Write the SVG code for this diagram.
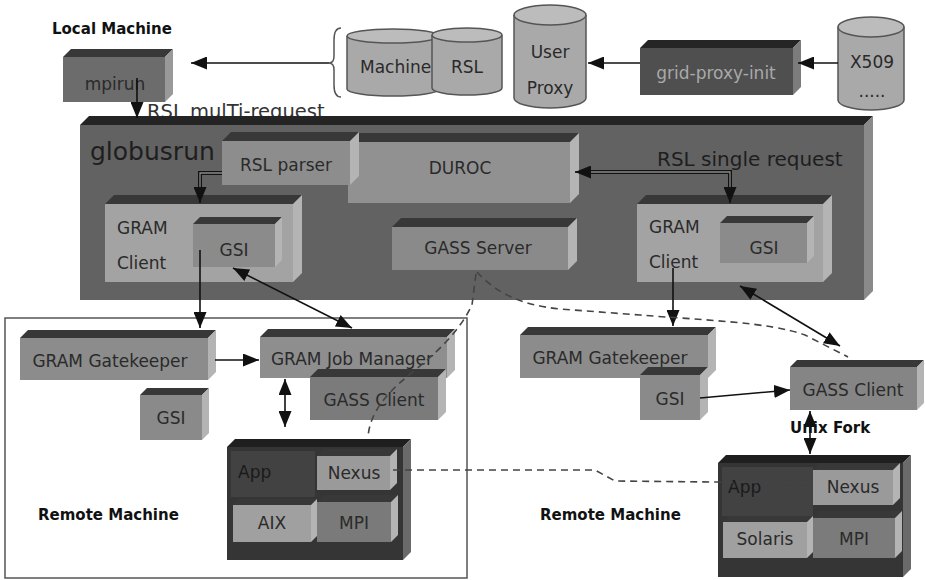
<svg xmlns="http://www.w3.org/2000/svg" width="925" height="580" viewBox="0 0 925 580">
<defs>
<marker id="ah" viewBox="0 0 16 13" refX="16" refY="6.5" markerWidth="16" markerHeight="13" markerUnits="userSpaceOnUse" orient="auto-start-reverse">
<path d="M0,0 L16,6.5 L0,13 z" fill="#111"/>
</marker>
</defs>
<style>
text{font-family:"DejaVu Sans","Verdana",sans-serif;fill:#2a2a2a}
.lbl{font-size:17px;text-anchor:middle}
.lbll{font-size:17px}
.bold{font-weight:bold;font-size:15px;fill:#111}
.top{fill:#383838}
.rt{fill:#b4b4b4}
.cyl{fill:#a9a9a9;stroke:#555;stroke-width:1.5}
.cylt{fill:#bcbcbc;stroke:#555;stroke-width:1.5}
.ln{stroke:#111;stroke-width:1.6;fill:none}
.dbl{stroke:#111;stroke-width:4;fill:none}
.dbli{stroke:#8a8a8a;stroke-width:1.3;fill:none}
.dash{stroke:#444;stroke-width:1.6;fill:none;stroke-dasharray:7 5}
</style>
<rect width="925" height="580" fill="#fff"/>

<text class="bold" x="52" y="34">Local Machine</text>
<text class="bold" x="38" y="520">Remote Machine</text>
<text class="bold" x="540" y="520">Remote Machine</text>

<g id="remote-frame">
<rect x="5" y="318" width="462" height="260" fill="none" stroke="#555" stroke-width="1.5"/>
</g>

<g id="mpirun">
<polygon class="top" points="63,57 71,49 173,49 165,57"/>
<polygon points="165,57 173,49 173,94 165,102" fill="#999"/>
<rect x="63" y="57" width="102" height="45" fill="#6c6c6c"/>
<text class="lbl" x="115" y="90">mpirun</text>
</g>

<path id="brace" d="M341,28 Q334,28 334,40 L334,56 Q334,63 329,63 Q334,63 334,70 L334,85 Q334,97 341,97" fill="none" stroke="#555" stroke-width="1.5"/>

<g id="machines">
<path class="cyl" d="M347,36 L347,89 A46,7 0 0 0 439,89 L439,36"/>
<ellipse class="cylt" cx="393" cy="36" rx="46" ry="7"/>
<text class="lbll" x="360" y="73">Machines</text>
</g>
<g id="rsl">
<path class="cyl" d="M432,35 L432,88 A35,7 0 0 0 502,88 L502,35"/>
<ellipse class="cylt" cx="467" cy="35" rx="35" ry="7"/>
<text class="lbl" x="467" y="73">RSL</text>
</g>
<g id="user-proxy">
<path class="cyl" d="M514,15 L514,98 A36,10 0 0 0 586,98 L586,15"/>
<ellipse class="cylt" cx="550" cy="15" rx="36" ry="10"/>
<text class="lbl" x="550" y="58">User</text>
<text class="lbl" x="550" y="94">Proxy</text>
</g>
<g id="grid-proxy-init">
<polygon points="640,48 648,40 801,40 793,48" fill="#252525"/>
<polygon points="793,48 801,40 801,87 793,95" fill="#7c7c7c"/>
<rect x="640" y="48" width="153" height="47" fill="#4f4f4f"/>
<text class="lbl" x="716" y="79" style="fill:#a9a9a9">grid-proxy-init</text>
</g>
<g id="x509">
<path class="cyl" d="M838,27 L838,100 A33,10 0 0 0 904,100 L904,27"/>
<ellipse class="cylt" cx="871" cy="27" rx="33" ry="10"/>
<text class="lbl" x="872" y="68">X509</text>
<text class="lbl" x="872" y="97">.....</text>
</g>

<text x="147" y="118" style="font-size:19.5px;fill:#333">RSL mulTi-request</text>

<g id="globusrun">
<polygon points="80,125 89,116 873,116 864,125" fill="#242424"/>
<polygon points="864,125 873,116 873,291 864,300" fill="#8a8a8a"/>
<rect x="80" y="125" width="784" height="175" fill="#626262"/>
<text x="90" y="160" style="font-size:25px;fill:#1e1e1e">globusrun</text>
<text x="657" y="166" style="font-size:20px;fill:#1e1e1e">RSL single request</text>
</g>

<g id="duroc">
<polygon class="top" points="348,142 357,133 579,133 570,142"/>
<polygon class="rt" points="570,142 579,133 579,194 570,203"/>
<rect x="348" y="142" width="222" height="61" fill="#919191"/>
<text class="lbl" x="460" y="174">DUROC</text>
</g>
<g id="rsl-parser">
<polygon class="top" points="222,141 231,132 359,132 350,141"/>
<polygon class="rt" points="350,141 359,132 359,176 350,185"/>
<rect x="222" y="141" width="128" height="44" fill="#8d8d8d"/>
<text class="lbl" x="286" y="171">RSL parser</text>
</g>

<g id="gram-client-left">
<polygon class="top" points="105,204 114,195 302,195 293,204"/>
<polygon class="rt" points="293,204 302,195 302,273 293,282"/>
<rect x="105" y="204" width="188" height="78" fill="#a3a3a3"/>
<text class="lbll" x="117" y="234">GRAM</text>
<text class="lbll" x="117" y="269">Client</text>
</g>
<g id="gsi-left-client">
<polygon class="top" points="193,224 200,217 282,217 275,224"/>
<polygon class="rt" points="275,224 282,217 282,260 275,267"/>
<rect x="193" y="224" width="82" height="43" fill="#8b8b8b"/>
<text class="lbl" x="234" y="256">GSI</text>
</g>

<g id="gass-server">
<polygon class="top" points="392,227 401,218 577,218 568,227"/>
<polygon class="rt" points="568,227 577,218 577,261 568,270"/>
<rect x="392" y="227" width="176" height="43" fill="#8a8a8a"/>
<text class="lbl" x="478" y="254">GASS Server</text>
</g>

<g id="gram-client-right">
<polygon class="top" points="637,204 646,195 832,195 823,204"/>
<polygon class="rt" points="823,204 832,195 832,273 823,282"/>
<rect x="637" y="204" width="186" height="78" fill="#a3a3a3"/>
<text class="lbll" x="649" y="233">GRAM</text>
<text class="lbll" x="649" y="268">Client</text>
</g>
<g id="gsi-right-client">
<polygon class="top" points="720,223 727,216 814,216 807,223"/>
<polygon class="rt" points="807,223 814,216 814,256 807,263"/>
<rect x="720" y="223" width="87" height="40" fill="#8b8b8b"/>
<text class="lbl" x="764" y="254">GSI</text>
</g>

<g id="gatekeeper-left">
<polygon class="top" points="20,338 28,330 216,330 208,338"/>
<polygon class="rt" points="208,338 216,330 216,372 208,380"/>
<rect x="20" y="338" width="188" height="42" fill="#8c8c8c"/>
<text class="lbl" x="110" y="367">GRAM Gatekeeper</text>
</g>
<g id="gsi-left">
<polygon class="top" points="140,395 147,388 209,388 202,395"/>
<polygon class="rt" points="202,395 209,388 209,433 202,440"/>
<rect x="140" y="395" width="62" height="45" fill="#8a8a8a"/>
<text class="lbl" x="171" y="424">GSI</text>
</g>
<g id="job-manager">
<polygon class="top" points="260,337 268,329 455,329 447,337"/>
<polygon class="rt" points="447,337 455,329 455,370 447,378"/>
<rect x="260" y="337" width="187" height="41" fill="#8e8e8e"/>
<text class="lbl" x="352" y="365">GRAM Job Manager</text>
</g>
<g id="gass-client-left">
<polygon class="top" points="310,377 318,369 446,369 438,377"/>
<polygon class="rt" points="438,377 446,369 446,412 438,420"/>
<rect x="310" y="377" width="128" height="43" fill="#7b7b7b"/>
<text class="lbl" x="374" y="406">GASS Client</text>
</g>

<g id="app-left">
<polygon points="227,447 235,439 411,439 403,447" fill="#1f1f1f"/>
<polygon points="403,447 411,439 411,552 403,560" fill="#6a6a6a"/>
<rect x="227" y="447" width="176" height="113" fill="#353535"/>
<rect x="231" y="451" width="84" height="46" fill="#424242"/>
<text class="lbll" x="238" y="478" style="fill:#1a1a1a">App</text>
</g>
<g id="nexus-left">
<polygon class="top" points="317,456 324,449 397,449 390,456"/>
<polygon class="rt" points="390,456 397,449 397,483 390,490"/>
<rect x="317" y="456" width="73" height="34" fill="#9a9a9a"/>
<text class="lbl" x="354" y="479">Nexus</text>
</g>
<g id="aix">
<polygon class="top" points="233,505 239,499 317,499 311,505"/>
<polygon class="rt" points="311,505 317,499 317,536 311,542"/>
<rect x="233" y="505" width="78" height="37" fill="#a0a0a0"/>
<text class="lbl" x="272" y="529">AIX</text>
</g>
<g id="mpi-left">
<polygon class="top" points="317,502 324,495 398,495 391,502"/>
<polygon class="rt" points="391,502 398,495 398,535 391,542"/>
<rect x="317" y="502" width="74" height="40" fill="#7a7a7a"/>
<text class="lbl" x="354" y="529">MPI</text>
</g>

<g id="gatekeeper-right">
<polygon class="top" points="520,335 528,327 716,327 708,335"/>
<polygon class="rt" points="708,335 716,327 716,370 708,378"/>
<rect x="520" y="335" width="188" height="43" fill="#8c8c8c"/>
<text class="lbl" x="610" y="364">GRAM Gatekeeper</text>
</g>
<g id="gsi-right">
<polygon class="top" points="640,375 648,367 708,367 700,375"/>
<polygon class="rt" points="700,375 708,367 708,412 700,420"/>
<rect x="640" y="375" width="60" height="45" fill="#8a8a8a"/>
<text class="lbl" x="670" y="405">GSI</text>
</g>
<g id="gass-client-right">
<polygon class="top" points="790,367 797,360 924,360 917,367"/>
<polygon class="rt" points="917,367 924,360 924,403 917,410"/>
<rect x="790" y="367" width="127" height="43" fill="#858585"/>
<text class="lbl" x="853" y="396">GASS Client</text>
</g>
<text class="bold" x="790" y="433">Unix Fork</text>

<g id="app-right">
<polygon points="718,463 726,455 911,455 903,463" fill="#1f1f1f"/>
<polygon points="903,463 911,455 911,569 903,577" fill="#6a6a6a"/>
<rect x="718" y="463" width="185" height="114" fill="#353535"/>
<rect x="722" y="467" width="91" height="49" fill="#424242"/>
<text class="lbll" x="728" y="493" style="fill:#1a1a1a">App</text>
</g>
<g id="nexus-right">
<polygon class="top" points="813,470 820,463 900,463 893,470"/>
<polygon class="rt" points="893,470 900,463 900,498 893,505"/>
<rect x="813" y="470" width="80" height="35" fill="#9a9a9a"/>
<text class="lbl" x="853" y="493">Nexus</text>
</g>
<g id="solaris">
<polygon class="top" points="723,522 729,516 813,516 807,522"/>
<polygon class="rt" points="807,522 813,516 813,552 807,558"/>
<rect x="723" y="522" width="84" height="36" fill="#a0a0a0"/>
<text class="lbl" x="765" y="545">Solaris</text>
</g>
<g id="mpi-right">
<polygon class="top" points="813,518 820,511 902,511 895,518"/>
<polygon class="rt" points="895,518 902,511 902,551 895,558"/>
<rect x="813" y="518" width="82" height="40" fill="#7b7b7b"/>
<text class="lbl" x="854" y="545">MPI</text>
</g>

<g id="connectors">
<line class="ln" x1="329" y1="63" x2="191" y2="63" marker-end="url(#ah)"/>
<line class="ln" x1="137" y1="78" x2="137" y2="118" marker-end="url(#ah)"/>
<line class="ln" x1="640" y1="63" x2="588" y2="63" marker-end="url(#ah)"/>
<line class="ln" x1="838" y1="63" x2="798" y2="63" marker-end="url(#ah)"/>
<polyline class="dbl" points="222,173 200,173 200,192"/>
<polyline class="dbli" points="222,173 200,173 200,192"/>
<line class="ln" x1="200" y1="190" x2="200" y2="203" marker-end="url(#ah)"/>
<polyline class="dbl" points="588,172 730,172 730,192"/>
<polyline class="dbli" points="588,172 730,172 730,192"/>
<line class="ln" x1="590" y1="172" x2="575" y2="172" marker-end="url(#ah)"/>
<line class="ln" x1="730" y1="190" x2="730" y2="203" marker-end="url(#ah)"/>
<line class="ln" x1="200" y1="250" x2="200" y2="328" marker-end="url(#ah)"/>
<line class="ln" x1="233" y1="268" x2="352" y2="328" marker-start="url(#ah)" marker-end="url(#ah)"/>
<line class="ln" x1="215" y1="360" x2="259" y2="360" marker-end="url(#ah)"/>
<line class="ln" x1="285" y1="379" x2="285" y2="427" marker-start="url(#ah)" marker-end="url(#ah)"/>
<line class="ln" x1="673" y1="268" x2="673" y2="326" marker-end="url(#ah)"/>
<line class="ln" x1="740" y1="286" x2="840" y2="346" marker-start="url(#ah)" marker-end="url(#ah)"/>
<line class="ln" x1="700" y1="398" x2="790" y2="390" marker-end="url(#ah)"/>
<line class="ln" x1="810" y1="411" x2="810" y2="454" marker-start="url(#ah)" marker-end="url(#ah)"/>
<path class="dash" d="M477,272 C495,292 520,305 560,309 L640,315 C700,320 770,322 805,335 L848,357"/>
<path class="dash" d="M476,274 L472,305 C460,330 440,350 415,370 C390,390 370,410 368,437"/>
<path class="dash" d="M393,470 L595,470 L615,481 L813,483"/>
</g>
</svg>
